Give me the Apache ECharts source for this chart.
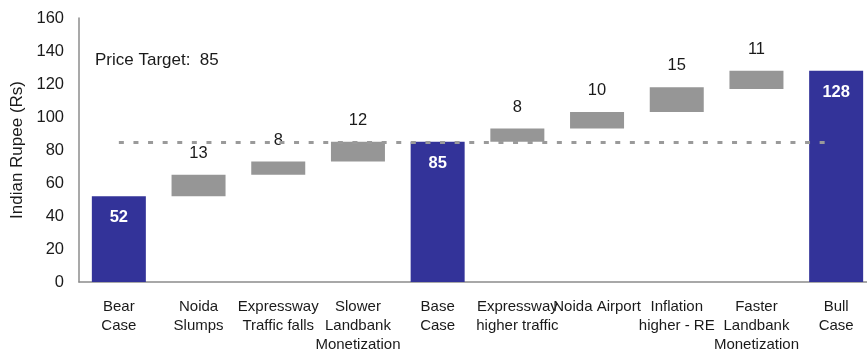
<!DOCTYPE html>
<html>
<head>
<meta charset="utf-8">
<title>Price target waterfall</title>
<script src="https://cdn.jsdelivr.net/npm/echarts@6/dist/echarts.min.js"></script>
<style>
  html, body { margin: 0; padding: 0; background: #fff; }
  #chart { width: 867px; height: 352px; }
</style>
</head>
<body>
<div id="chart"></div>
<script>
// Scenario categories along the x axis
var categories = [
  'Bear\nCase', 'Noida\nSlumps', 'Expressway\nTraffic falls', 'Slower\nLandbank\nMonetization',
  'Base\nCase', 'Expressway\nhigher traffic', 'Noida Airport', 'Inflation\nhigher - RE',
  'Faster\nLandbank\nMonetization', 'Bull\nCase'
];
// Invisible offset under each floating step
var baseValues  = [0, 52, 65, 73, 0, 85, 93, 103, 117, 0];
// Scenario totals (blue columns)
var totalValues = [52, '-', '-', '-', 85, '-', '-', '-', '-', 128];
// Incremental steps (grey floating bars)
var stepValues  = ['-', 13, 8, 12, '-', 8, 10, 15, 11, '-'];
var priceTarget = 85;

var fontFamily = '"Liberation Sans", Arial, sans-serif';
var chart = echarts.init(document.getElementById('chart'));

chart.setOption({
  animation: false,
  backgroundColor: '#ffffff',
  textStyle: { fontFamily: fontFamily },
  grid: { left: 79, top: 18, height: 264, width: 797, outerBoundsMode: 'none', containLabel: false },
  graphic: [{
    type: 'text',
    left: 95,
    top: 52,
    style: {
      text: 'Price Target:  ' + priceTarget,
      fontSize: 17,
      fontFamily: fontFamily,
      fill: '#1a1a1a'
    }
  }],
  xAxis: {
    type: 'category',
    data: categories,
    axisLine: { lineStyle: { color: '#8c8c8c', width: 1.5 } },
    axisTick: { show: false },
    axisLabel: {
      interval: 0,
      color: '#1a1a1a',
      fontSize: 15,
      lineHeight: 19,
      margin: 15,
      fontFamily: fontFamily
    }
  },
  yAxis: {
    type: 'value',
    min: 0,
    max: 160,
    interval: 20,
    name: 'Indian Rupee (Rs)',
    nameLocation: 'middle',
    nameGap: 52,
    nameRotate: 90,
    nameTextStyle: { fontSize: 17, color: '#1a1a1a', fontFamily: fontFamily },
    axisLine: { show: true, lineStyle: { color: '#8c8c8c', width: 1.5 } },
    axisTick: { show: false },
    splitLine: { show: false },
    axisLabel: { color: '#1a1a1a', fontSize: 16.5, margin: 15, fontFamily: fontFamily }
  },
  series: [
    {
      name: 'base',
      type: 'bar',
      stack: 'wf',
      barWidth: 54,
      silent: true,
      itemStyle: { color: 'transparent' },
      data: baseValues,
      markLine: {
        silent: true,
        symbol: 'none',
        label: { show: false },
        lineStyle: { color: '#9a9a9a', type: [5, 9.6], width: 3 },
        data: [[
          { coord: [categories[0], priceTarget] },
          { coord: [categories[categories.length - 1], priceTarget], x: 828 }
        ]]
      }
    },
    {
      name: 'total',
      type: 'bar',
      stack: 'wf',
      barWidth: 54,
      itemStyle: { color: '#333399' },
      label: {
        show: true,
        position: 'insideTop',
        distance: 13,
        color: '#ffffff',
        fontWeight: 'bold',
        fontSize: 16.5,
        fontFamily: fontFamily
      },
      data: totalValues
    },
    {
      name: 'step',
      type: 'bar',
      stack: 'wf',
      barWidth: 54,
      itemStyle: { color: '#969696' },
      label: {
        show: true,
        position: 'top',
        distance: 13,
        color: '#1a1a1a',
        fontSize: 16.5,
        fontFamily: fontFamily
      },
      data: stepValues
    }
  ]
});
</script>
</body>
</html>
